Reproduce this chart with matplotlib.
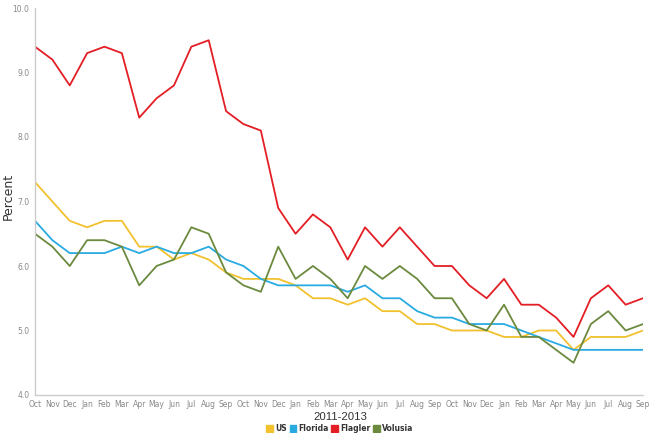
import matplotlib
matplotlib.use("Agg")
import matplotlib.pyplot as plt
from matplotlib.patches import Patch

months = ["Oct", "Nov", "Dec", "Jan", "Feb", "Mar", "Apr", "May", "Jun", "Jul", "Aug", "Sep"] * 3

us = [7.3, 7.0, 6.7, 6.6, 6.7, 6.7, 6.3, 6.3, 6.1, 6.2, 6.1, 5.9,
      5.8, 5.8, 5.8, 5.7, 5.5, 5.5, 5.4, 5.5, 5.3, 5.3, 5.1, 5.1,
      5.0, 5.0, 5.0, 4.9, 4.9, 5.0, 5.0, 4.7, 4.9, 4.9, 4.9, 5.0]
florida = [6.7, 6.4, 6.2, 6.2, 6.2, 6.3, 6.2, 6.3, 6.2, 6.2, 6.3, 6.1,
           6.0, 5.8, 5.7, 5.7, 5.7, 5.7, 5.6, 5.7, 5.5, 5.5, 5.3, 5.2,
           5.2, 5.1, 5.1, 5.1, 5.0, 4.9, 4.8, 4.7, 4.7, 4.7, 4.7, 4.7]
flagler = [9.4, 9.2, 8.8, 9.3, 9.4, 9.3, 8.3, 8.6, 8.8, 9.4, 9.5, 8.4,
           8.2, 8.1, 6.9, 6.5, 6.8, 6.6, 6.1, 6.6, 6.3, 6.6, 6.3, 6.0,
           6.0, 5.7, 5.5, 5.8, 5.4, 5.4, 5.2, 4.9, 5.5, 5.7, 5.4, 5.5]
volusia = [6.5, 6.3, 6.0, 6.4, 6.4, 6.3, 5.7, 6.0, 6.1, 6.6, 6.5, 5.9,
           5.7, 5.6, 6.3, 5.8, 6.0, 5.8, 5.5, 6.0, 5.8, 6.0, 5.8, 5.5,
           5.5, 5.1, 5.0, 5.4, 4.9, 4.9, 4.7, 4.5, 5.1, 5.3, 5.0, 5.1]

series_names = ["US", "Florida", "Flagler", "Volusia"]
colors = ["#F2C12E", "#29ABE2", "#E31E24", "#6B8A3E"]
yticks = [4.0, 5.0, 6.0, 7.0, 8.0, 9.0, 10.0]

fig = plt.figure(figsize=(6.5, 4.33), dpi=100)
ax = fig.add_axes([35/650, 1 - 395/433, 608/650, 387/433])

x = list(range(len(months)))
for vals, c, name in zip([us, florida, flagler, volusia], colors, series_names):
    ax.plot(x, vals, color=c, lw=1.3, label=name)

ax.set_xlim(0, len(months) - 1)
ax.set_ylim(4.0, 10.0)
ax.set_yticks(yticks)
ax.set_yticklabels([f"{v:.1f}" for v in yticks])
ax.set_xticks(x)
ax.set_xticklabels(months)
ax.tick_params(axis="both", length=0, labelsize=5.5, colors="#888888")
ax.tick_params(axis="x", pad=3.5)
ax.tick_params(axis="y", pad=4)
for s in ["top", "right"]:
    ax.spines[s].set_visible(False)
for s in ["left", "bottom"]:
    ax.spines[s].set_color("#cccccc")
    ax.spines[s].set_linewidth(1.0)

fig.text(8/650, 1 - 196/433, "Percent", rotation=90, fontsize=9, color="#333333",
         ha="center", va="center")

fig.text(340/650, 1 - 417/433, "2011-2013", fontsize=8.2, color="#333333",
         ha="center", va="center", family=["Liberation Sans", "DejaVu Sans"])

handles = [Patch(facecolor=c, edgecolor=c) for c in colors]
fig.legend(handles, series_names, loc="center", bbox_to_anchor=(340/650, 1 - 428.5/433),
           ncol=4, frameon=False, prop={"size": 5.5, "weight": "bold"},
           handlelength=0.9, handleheight=0.9, handletextpad=0.3, columnspacing=0.3,
           labelcolor="#333333", borderpad=0.0)

fig.savefig("out.png", dpi=100)
